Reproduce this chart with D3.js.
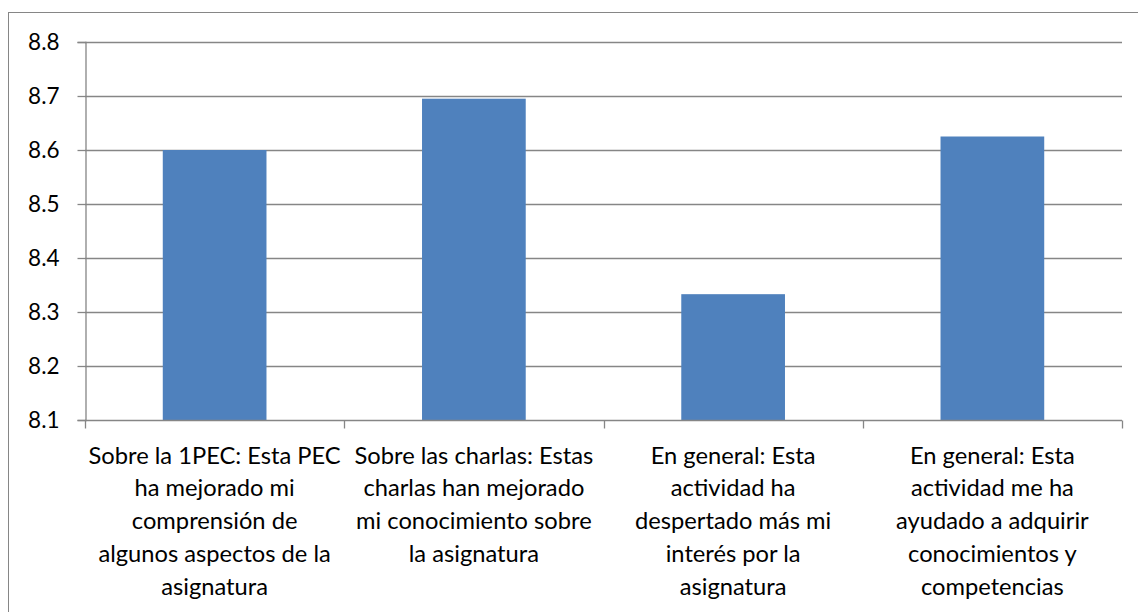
<!DOCTYPE html>
<html lang="es">
<head>
<meta charset="UTF-8">
<title>Valoración</title>
<style>
    body { margin: 0; background: #fff; }
    #chart { width: 1138px; height: 612px; }
    text { font-family: Lato, "Open Sans", sans-serif; fill: #000; }
</style>
</head>
<body>
<div id="chart"></div>
<script src="https://d3js.org/d3.v7.min.js"></script>
<script>
// data
const categories = ["c1", "c2", "c3", "c4"];
const values = [8.6, 8.695, 8.333, 8.625];
const labelLines = [
    ["Sobre la 1PEC: Esta PEC", "ha mejorado mi", "comprensión de", "algunos aspectos de la", "asignatura"],
    ["Sobre las charlas: Estas", "charlas han mejorado", "mi conocimiento sobre", "la asignatura"],
    ["En general: Esta", "actividad ha", "despertado más mi", "interés por la", "asignatura"],
    ["En general: Esta", "actividad me ha", "ayudado a adquirir", "conocimientos y", "competencias"]
];
const yTicks = [8.1, 8.2, 8.3, 8.4, 8.5, 8.6, 8.7, 8.8];

const W = 1138, H = 612;
const margin = {top: 42, right: 16, bottom: 192, left: 85};
const axisColor = "#868686";

const svg = d3.select("#chart").append("svg")
    .attr("width", W)
    .attr("height", H);

// chart frame (runs off the right and bottom edges)
svg.append("rect")
    .attr("x", 8.5).attr("y", 12.5)
    .attr("width", W + 10).attr("height", H + 10)
    .attr("fill", "none")
    .attr("stroke", axisColor);

const x = d3.scaleBand()
    .domain(categories)
    .range([margin.left, W - margin.right])
    .paddingInner(0.6)
    .paddingOuter(0.3);

const y = d3.scaleLinear()
    .domain([8.1, 8.8])
    .range([H - margin.bottom, margin.top]);

const step = x.step();
const x0 = margin.left, x1 = W - margin.right;

// gridlines
svg.append("g")
    .selectAll("line")
    .data(yTicks.slice(1))
    .join("line")
    .attr("x1", x0).attr("x2", x1)
    .attr("y1", d => Math.round(y(d)) + 0.5)
    .attr("y2", d => Math.round(y(d)) + 0.5)
    .attr("stroke", axisColor)
    .attr("stroke-width", 1.3);

// bars
svg.append("g")
    .selectAll("rect")
    .data(values)
    .join("rect")
    .attr("x", (d, i) => x(categories[i]))
    .attr("width", x.bandwidth())
    .attr("y", d => y(d))
    .attr("height", d => y(8.1) - y(d))
    .attr("fill", "#4F81BD");

// y axis
const yAxis = svg.append("g")
    .attr("transform", "translate(" + (x0 + 0.5) + ",0)")
    .call(d3.axisLeft(y).tickValues(yTicks).tickSize(8).tickPadding(18).tickFormat(d3.format(".1f")));
yAxis.select(".domain").attr("stroke", axisColor).attr("stroke-width", 1.3);
yAxis.selectAll(".tick line").attr("stroke", axisColor).attr("stroke-width", 1.3);
yAxis.selectAll(".tick text").style("font-size", "22.5px").style("font-family", "Lato, sans-serif").attr("fill", "#000");

// x axis line + boundary ticks
const xBase = Math.round(y(8.1)) + 0.5;
svg.append("line")
    .attr("x1", x0).attr("x2", x1)
    .attr("y1", xBase).attr("y2", xBase)
    .attr("stroke", axisColor).attr("stroke-width", 1.3);
svg.append("g")
    .selectAll("line")
    .data(d3.range(categories.length + 1))
    .join("line")
    .attr("x1", i => Math.round(x0 + i * step) + 0.5)
    .attr("x2", i => Math.round(x0 + i * step) + 0.5)
    .attr("y1", xBase).attr("y2", xBase + 8)
    .attr("stroke", axisColor).attr("stroke-width", 1.3);

// category labels
const labels = svg.append("g")
    .selectAll("text")
    .data(labelLines)
    .join("text")
    .attr("text-anchor", "middle")
    .style("font-size", "23.7px")
    .attr("transform", (d, i) => "translate(" + (x(categories[i]) + x.bandwidth() / 2) + "," + (xBase + 43) + ")");
labels.selectAll("tspan")
    .data(d => d)
    .join("tspan")
    .attr("x", 0)
    .attr("y", (d, j) => j * 32.8)
    .text(d => d);
</script>
</body>
</html>
